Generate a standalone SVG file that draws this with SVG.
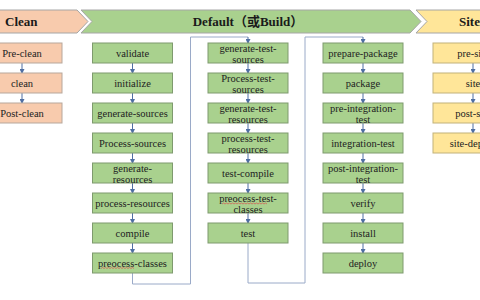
<svg xmlns="http://www.w3.org/2000/svg" width="480" height="300" viewBox="0 0 480 300">
<style>
  .t{font-family:"Liberation Serif","Times New Roman",serif;font-size:10.5px;fill:#222;text-anchor:middle}
  .h{font-family:"Liberation Serif","Noto Sans CJK SC",serif;font-size:13px;font-weight:bold;fill:#1a1a1a}
  .pk{fill:#F8CBAD;stroke:#B7A79C;stroke-width:1}
  .gr{fill:#A9D18E;stroke:#7E9A6E;stroke-width:1}
  .ye{fill:#FFE699;stroke:#C2B27A;stroke-width:1}
  .hb{stroke:#A6A6A6;stroke-width:1}
  .a{stroke:#4F6FA3;stroke-width:1;fill:none;marker-end:url(#ah)}
  .lp{stroke:#9AAAC8;stroke-width:1;fill:none}
  .sq{stroke:#D9534F;stroke-width:0.7;fill:none}
</style>
<defs>
  <marker id="ah" markerWidth="5" markerHeight="5" refX="4" refY="2.5" orient="auto" markerUnits="userSpaceOnUse">
    <path d="M0,0 L5,2.5 L0,5 z" fill="#4F6FA3"/>
  </marker>
</defs>
<rect width="480" height="300" fill="#fff"/>

<g id="header-clean">
  <polygon class="pk hb" points="-1,10 77,10 88,21.5 77,33 -1,33" style="fill:#F8CBAD"/>
  <text class="h" x="5" y="26">Clean</text>
</g>
<g id="header-default">
  <polygon class="gr hb" points="81,10 410,10 421,21.5 410,33 81,33 92,21.5" style="fill:#A9D18E"/>
  <text class="h" x="248" y="26" text-anchor="middle">Default（或Build）</text>
</g>
<g id="header-site">
  <polygon class="ye hb" points="416,10 481,10 481,33 416,33 427,21.5" style="fill:#FFE699"/>
  <text class="h" x="459" y="26">Site</text>
</g>

<g id="connectors">
  <line class="a" x1="22" y1="63" x2="22" y2="73"/>
  <line class="a" x1="22" y1="93" x2="22" y2="103"/>

  <line class="a" x1="132.5" y1="63" x2="132.5" y2="73"/>
  <line class="a" x1="132.5" y1="93" x2="132.5" y2="103"/>
  <line class="a" x1="132.5" y1="123" x2="132.5" y2="133"/>
  <line class="a" x1="132.5" y1="153" x2="132.5" y2="163"/>
  <line class="a" x1="132.5" y1="183" x2="132.5" y2="193"/>
  <line class="a" x1="132.5" y1="213" x2="132.5" y2="223"/>
  <line class="a" x1="132.5" y1="243" x2="132.5" y2="253"/>

  <path class="lp" d="M132.5,273 V284 H190.5 V37 H248"/>
  <line class="a" x1="248" y1="37" x2="248" y2="43"/>

  <line class="a" x1="248" y1="63" x2="248" y2="73"/>
  <line class="a" x1="248" y1="93" x2="248" y2="103"/>
  <line class="a" x1="248" y1="123" x2="248" y2="133"/>
  <line class="a" x1="248" y1="153" x2="248" y2="163"/>
  <line class="a" x1="248" y1="183" x2="248" y2="193"/>
  <line class="a" x1="248" y1="213" x2="248" y2="223"/>

  <path class="lp" d="M248,243 V283 H305 V37 H363"/>
  <line class="a" x1="363" y1="37" x2="363" y2="43"/>

  <line class="a" x1="363" y1="63" x2="363" y2="73"/>
  <line class="a" x1="363" y1="93" x2="363" y2="103"/>
  <line class="a" x1="363" y1="123" x2="363" y2="133"/>
  <line class="a" x1="363" y1="153" x2="363" y2="163"/>
  <line class="a" x1="363" y1="183" x2="363" y2="193"/>
  <line class="a" x1="363" y1="213" x2="363" y2="223"/>
  <line class="a" x1="363" y1="243" x2="363" y2="253"/>

  <line class="a" x1="473" y1="63" x2="473" y2="73"/>
  <line class="a" x1="473" y1="93" x2="473" y2="103"/>
  <line class="a" x1="473" y1="123" x2="473" y2="133"/>
</g>

<!-- Clean column -->
<g id="pre-clean"><rect class="pk" x="-18" y="43" width="80" height="20"/><text class="t" x="22" y="56.5">Pre-clean</text></g>
<g id="clean"><rect class="pk" x="-18" y="73" width="80" height="20"/><text class="t" x="22" y="86.5">clean</text></g>
<g id="post-clean"><rect class="pk" x="-18" y="103" width="80" height="20"/><text class="t" x="22" y="116.5">Post-clean</text></g>

<!-- Default column 1 -->
<g id="validate"><rect class="gr" x="92.5" y="43" width="80" height="20"/><text class="t" x="132.5" y="56.5">validate</text></g>
<g id="initialize"><rect class="gr" x="92.5" y="73" width="80" height="20"/><text class="t" x="132.5" y="86.5">initialize</text></g>
<g id="generate-sources"><rect class="gr" x="92.5" y="103" width="80" height="20"/><text class="t" x="132.5" y="116.5">generate-sources</text></g>
<g id="process-sources"><rect class="gr" x="92.5" y="133" width="80" height="20"/><text class="t" x="132.5" y="146.5">Process-sources</text></g>
<g id="generate-resources"><rect class="gr" x="92.5" y="163" width="80" height="20"/><text class="t" x="132.5" y="172">generate-</text><text class="t" x="132.5" y="182.5">resources</text></g>
<g id="process-resources"><rect class="gr" x="92.5" y="193" width="80" height="20"/><text class="t" x="132.5" y="206.5">process-resources</text></g>
<g id="compile"><rect class="gr" x="92.5" y="223" width="80" height="20"/><text class="t" x="132.5" y="236.5">compile</text></g>
<g id="preocess-classes"><rect class="gr" x="92.5" y="253" width="80" height="20"/><text class="t" x="132.5" y="266.5">preocess-classes</text>
  <path class="sq" d="M101,268.5 l1.5,-1 l1.5,1 l1.5,-1 l1.5,1 l1.5,-1 l1.5,1 l1.5,-1 l1.5,1 l1.5,-1 l1.5,1 l1.5,-1 l1.5,1 l1.5,-1 l1.5,1 l1.5,-1 l1.5,1 l1.5,-1 l1.5,1 l1.5,-1 l1.5,1 l1.5,-1 l1.5,1"/></g>

<!-- Default column 2 -->
<g id="generate-test-sources"><rect class="gr" x="208" y="43" width="80" height="20"/><text class="t" x="248" y="52">generate-test-</text><text class="t" x="248" y="62.5">sources</text></g>
<g id="process-test-sources"><rect class="gr" x="208" y="73" width="80" height="20"/><text class="t" x="248" y="82">Process-test-</text><text class="t" x="248" y="92.5">sources</text></g>
<g id="generate-test-resources"><rect class="gr" x="208" y="103" width="80" height="20"/><text class="t" x="248" y="112">generate-test-</text><text class="t" x="248" y="122.5">resources</text></g>
<g id="process-test-resources"><rect class="gr" x="208" y="133" width="80" height="20"/><text class="t" x="248" y="142">process-test-</text><text class="t" x="248" y="152.5">resources</text></g>
<g id="test-compile"><rect class="gr" x="208" y="163" width="80" height="20"/><text class="t" x="248" y="176.5">test-compile</text></g>
<g id="preocess-test-classes"><rect class="gr" x="208" y="193" width="80" height="20"/><text class="t" x="248" y="202">preocess-test-</text><text class="t" x="248" y="212.5">classes</text>
  <path class="sq" d="M222,204 l1.5,-1 l1.5,1 l1.5,-1 l1.5,1 l1.5,-1 l1.5,1 l1.5,-1 l1.5,1 l1.5,-1 l1.5,1 l1.5,-1 l1.5,1 l1.5,-1 l1.5,1 l1.5,-1 l1.5,1 l1.5,-1 l1.5,1 l1.5,-1 l1.5,1 l1.5,-1 l1.5,1 l1.5,-1 l1.5,1 l1.5,-1 l1.5,1 l1.5,-1 l1.5,1 l1.5,-1 l1.5,1"/></g>
<g id="test"><rect class="gr" x="208" y="223" width="80" height="20"/><text class="t" x="248" y="236.5">test</text></g>

<!-- Default column 3 -->
<g id="prepare-package"><rect class="gr" x="323" y="43" width="80" height="20"/><text class="t" x="363" y="56.5">prepare-package</text></g>
<g id="package"><rect class="gr" x="323" y="73" width="80" height="20"/><text class="t" x="363" y="86.5">package</text></g>
<g id="pre-integration-test"><rect class="gr" x="323" y="103" width="80" height="20"/><text class="t" x="363" y="112">pre-integration-</text><text class="t" x="363" y="122.5">test</text></g>
<g id="integration-test"><rect class="gr" x="323" y="133" width="80" height="20"/><text class="t" x="363" y="146.5">integration-test</text></g>
<g id="post-integration-test"><rect class="gr" x="323" y="163" width="80" height="20"/><text class="t" x="363" y="172">post-integration-</text><text class="t" x="363" y="182.5">test</text></g>
<g id="verify"><rect class="gr" x="323" y="193" width="80" height="20"/><text class="t" x="363" y="206.5">verify</text></g>
<g id="install"><rect class="gr" x="323" y="223" width="80" height="20"/><text class="t" x="363" y="236.5">install</text></g>
<g id="deploy"><rect class="gr" x="323" y="253" width="80" height="20"/><text class="t" x="363" y="266.5">deploy</text></g>

<!-- Site column -->
<g id="pre-site"><rect class="ye" x="433" y="43" width="80" height="20"/><text class="t" x="473" y="56.5">pre-site</text></g>
<g id="site"><rect class="ye" x="433" y="73" width="80" height="20"/><text class="t" x="473" y="86.5">site</text></g>
<g id="post-site"><rect class="ye" x="433" y="103" width="80" height="20"/><text class="t" x="473" y="116.5">post-site</text></g>
<g id="site-deploy"><rect class="ye" x="433" y="133" width="80" height="20"/><text class="t" x="473" y="146.5">site-deploy</text></g>
</svg>
